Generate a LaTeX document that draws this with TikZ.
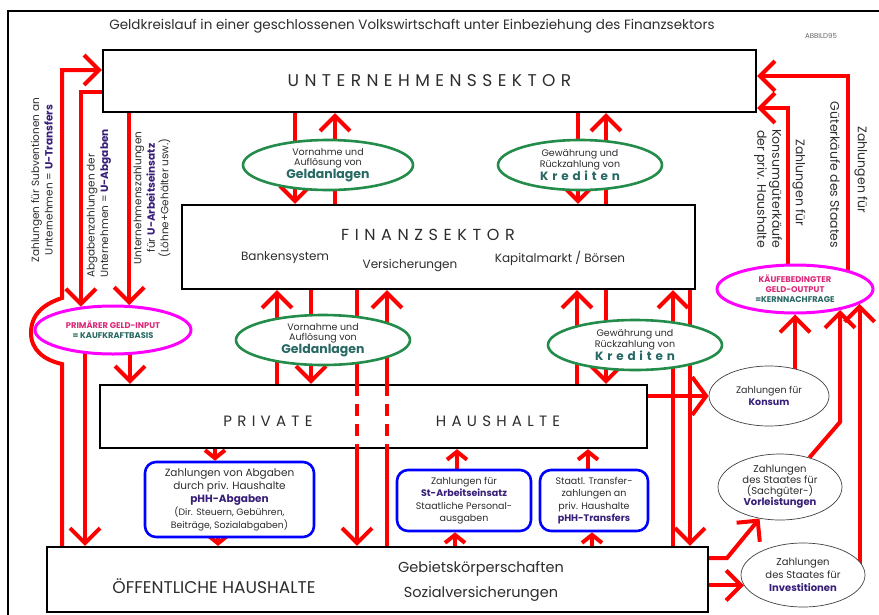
\documentclass[tikz,border=0pt]{standalone}
\usepackage{fontspec}
\setmainfont{Poppins}
\usetikzlibrary{arrows.meta,shapes.geometric}
\definecolor{rr}{RGB}{255,0,0}
\definecolor{gg}{RGB}{35,140,75}
\definecolor{mm}{RGB}{255,0,255}
\definecolor{bb}{RGB}{0,0,255}
\definecolor{pu}{RGB}{55,30,120}
\definecolor{pk}{RGB}{220,40,120}
\definecolor{te}{RGB}{40,105,100}
\definecolor{tx}{RGB}{45,45,45}
\newcommand\geldtx[1]{{\fontsize{12.5}{13}\selectfont\bfseries\color{te}#1}}
\newcommand\kredtx[1]{{\fontsize{12}{13}\selectfont\bfseries\color{te}\addfontfeature{LetterSpace=32}#1}}
\pgfdeclarelayer{bg}
\pgfsetlayers{bg,main}
\begin{document}
\begin{tikzpicture}[x=1pt,y=-1pt,
  sector/.style={draw=black,line width=2.2pt,fill=white,inner sep=0pt},
  greenell/.style={ellipse,draw=gg,line width=2.6pt,fill=white,inner sep=0pt,align=center,text=tx,font=\fontsize{9.5}{10.5}\selectfont},
  magell/.style={ellipse,draw=mm,line width=3pt,fill=white,inner sep=0pt,align=center,font=\fontsize{8.3}{10}\selectfont\bfseries},
  grayell/.style={ellipse,draw=black!75,line width=0.7pt,fill=white,inner sep=0pt,align=center,text=tx,font=\fontsize{9.5}{12}\selectfont},
  bluebox/.style={draw=bb,line width=2.6pt,rounded corners=11pt,fill=white,inner sep=0pt,align=center,text=tx,font=\fontsize{9.5}{12.5}\selectfont},
  redarrow/.style={draw=rr,line width=4pt,-{Straight Barb[length=15pt,width=30pt]}},
  redarrowsm/.style={draw=rr,line width=4pt,-{Straight Barb[length=8pt,width=20pt]}},
  redline/.style={draw=rr,line width=4pt},
  dashwire/.style={draw=rr,line width=4pt,dash pattern=on 12pt off 8pt},
  lbl/.style={text=tx,inner sep=0pt,align=center,font=\fontsize{10.5}{13.5}\selectfont},
  rlbl/.style={text=tx,inner sep=0pt,align=center,font=\fontsize{12.5}{15}\selectfont},
  boxtxt/.style={text=tx,inner sep=0pt,font=\fontsize{12}{14}\selectfont},
  bigtxt/.style={text=tx,inner sep=0pt,font=\fontsize{15}{17}\selectfont\addfontfeature{LetterSpace=35}}
]
\useasboundingbox (0,0) rectangle (879,614);
\draw[line width=1.4pt] (8,620) -- (8,11) -- (885,11);
\node[text=tx,inner sep=0pt,font=\fontsize{13.5}{15}\selectfont] (title) at (412,26) {Geldkreislauf in einer geschlossenen Volkswirtschaft unter Einbeziehung des Finanzsektors};
\node[text=black!60,inner sep=0pt,font=\fontsize{7}{8}\selectfont] (abb) at (821,36) {ABBILD95};

% sectors
\node[sector,minimum width=653pt,minimum height=62pt] (U) at (429.5,81) {};
\node[bigtxt,font=\fontsize{17}{19}\selectfont\addfontfeature{LetterSpace=32}] (Ut) at (U.center) {UNTERNEHMENSSEKTOR};
\node[sector,minimum width=513pt,minimum height=84pt] (F) at (438.5,247) {};
\node[bigtxt,font=\fontsize{16}{18}\selectfont\addfontfeature{LetterSpace=35}] (Ft) at (428,235) {FINANZSEKTOR};
\node[boxtxt] (F1) at (285,258) {Bankensystem};
\node[boxtxt] (F2) at (410,266) {Versicherungen};
\node[boxtxt] (F3) at (560,258) {Kapitalmarkt / Börsen};
\node[sector,minimum width=547pt,minimum height=63pt] (PH) at (373.5,416.5) {};
\node[bigtxt] (PHa) at (268,421) {PRIVATE};
\node[bigtxt] (PHb) at (498,421) {HAUSHALTE};
\node[sector,minimum width=661pt,minimum height=65pt] (OH) at (377.5,579.5) {};
\node[text=tx,inner sep=0pt,font=\fontsize{17}{19}\selectfont] (OHt) at (214,586) {ÖFFENTLICHE HAUSHALTE};
\node[text=tx,inner sep=0pt,font=\fontsize{14.5}{16}\selectfont] (OH1) at (481,569) {Gebietskörperschaften};
\node[text=tx,inner sep=0pt,font=\fontsize{14.5}{16}\selectfont] (OH2) at (481,594) {Sozialversicherungen};

% green ellipses
\node[greenell,minimum width=170pt,minimum height=50pt] (E1) at (328,165) {Vornahme und\\Auflösung von\\\geldtx{Geldanlagen}};
\node[greenell,minimum width=164pt,minimum height=50pt] (E2) at (580,165) {Gewährung und\\Rückzahlung von\\\kredtx{Krediten}};
\node[greenell,minimum width=174pt,minimum height=50pt] (E3) at (323,340) {Vornahme und\\Auflösung von\\\geldtx{Geldanlagen}};
\node[greenell,minimum width=174pt,minimum height=50pt] (E4) at (635,345) {Gewährung und\\Rückzahlung von\\\kredtx{Krediten}};

% magenta ellipses
\node[magell,minimum width=156pt,minimum height=48pt] (M1) at (113,330) {{\color{pk}PRIMÄRER GELD-INPUT}\\{\color{te}= KAUFKRAFTBASIS}};
\node[magell,minimum width=156pt,minimum height=48pt] (M2) at (795,289) {{\color{pk}KÄUFEBEDINGTER}\\{\color{pk}GELD-OUTPUT}\\{\color{te}=KERNNACHFRAGE}};

% grey ellipses
\node[grayell,minimum width=120pt,minimum height=60pt] (K1) at (769,396) {Zahlungen für\\{\bfseries\color{pu}Konsum}};
\node[grayell,minimum width=124pt,minimum height=66pt,font=\fontsize{10}{11}\selectfont] (K2) at (780,487) {Zahlungen\\des Staates für\\(Sachgüter-)\\{\bfseries\color{pu}Vorleistungen}};
\node[grayell,minimum width=124pt,minimum height=64pt,font=\fontsize{10}{13}\selectfont] (K3) at (803,575) {Zahlungen\\des Staates für\\{\bfseries\color{pu}Investitionen}};

% blue boxes
\node[bluebox,minimum width=169pt,minimum height=75pt,font=\fontsize{10.5}{13}\selectfont] (B1) at (229.5,499.5) {Zahlungen von Abgaben\\durch priv. Haushalte\\{\bfseries\color{pu}pHH-Abgaben}\\{\fontsize{9.3}{12}\selectfont(Dir. Steuern, Gebühren,}\\{\fontsize{9.3}{12}\selectfont Beiträge, Sozialabgaben)}};
\node[bluebox,minimum width=134pt,minimum height=61pt] (B2) at (464,500.5) {Zahlungen für\\{\bfseries\color{pu}St-Arbeitseinsatz}\\Staatliche Personal-\\ausgaben};
\node[bluebox,minimum width=108pt,minimum height=61pt] (B3) at (594,500.5) {Staatl. Transfer-\\zahlungen an\\priv. Haushalte\\{\bfseries\color{pu}pHH-Transfers}};

% rotated labels
\node[lbl,rotate=90] (L1) at (42,180) {Zahlungen für Subventionen an\\Unternehmen = {\bfseries\color{pu}U-Transfers}};
\node[lbl,rotate=90,anchor=west,align=left] (L2) at (99,278) {Abgabenzahlungen der\\Unternehmen = {\bfseries\color{pu}U-Abgaben}};
\node[lbl,rotate=90] (L3) at (152,198) {Unternehmenszahlungen\\für {\bfseries\color{pu}U-Arbeitseinsatz}\\(Löhne+Gehälter usw.)};
\node[rlbl,rotate=-90] (R1a) at (799,183) {Zahlungen für};
\node[rlbl,rotate=-90] (R1b) at (768,189) {Konsumgüterkäufe\\der priv. Haushalte};
\node[rlbl,rotate=-90] (R2a) at (861,170) {Zahlungen für};
\node[rlbl,rotate=-90] (R2b) at (835,175) {Güterkäufe des Staates};

\begin{pgfonlayer}{bg}
% left side
\draw[redarrow] (OH.north -| 62,0) -- (62,364) .. controls (44,360) and (31,350) .. (31,333) .. controls (31,314) and (44,304) .. (62,298) -- (62,70) -- (U.west |- 0,70);
\draw[redarrow] (U.west |- 0,92) -- (M1.144 |- 0,92) -- (M1.144);
\draw[redarrow] (M1.center -| 85,0) -- (OH.north -| 85,0);
\draw[redarrow] (U.south -| M1.57) -- (M1.57);
\draw[redarrow] (M1.center -| 130,0) -- (PH.north -| 130,0);
% between U and F
\draw[redarrow] (U.south -| 295,0) -- (F.north -| 295,0);
\draw[redarrow] (F.north -| 335,0) -- (U.south -| 335,0);
\draw[redarrow] (U.south -| 578,0) -- (F.north -| 578,0);
\draw[redarrow] (F.north -| 606,0) -- (U.south -| 606,0);
% between F and PH / OH
\draw[redarrow] (PH.north -| 277,0) -- (F.south -| 277,0);
\draw[redarrow] (F.south -| 311,0) -- (PH.north -| 311,0);
\draw[redline] (F.south -| 357,0) -- (PH.north -| 357,0);
\draw[redarrow] (PH.south -| 357,0) -- (OH.north -| 357,0);
\draw[redline] (OH.north -| 387,0) -- (PH.south -| 387,0);
\draw[redarrow] (PH.north -| 387,0) -- (F.south -| 387,0);
\draw[redarrow] (PH.north -| 577,0) -- (F.south -| 577,0);
\draw[redarrow] (F.south -| 606,0) -- (PH.north -| 606,0);
\draw[redarrow] (OH.north -| 673,0) -- (F.south -| 673,0);
\draw[redarrow] (F.south -| 690,0) -- (OH.north -| 690,0);
% right side
\draw[redarrow,-{Straight Barb[length=14pt,width=38pt]}] (PH.east |- K1.west) -- (K1.west);
\draw[redarrow] (OH.east |- 0,558) -- (727,558) -- (K2.237);
\draw[redarrow] (OH.east |- K3.190) -- (K3.190);
\draw[redarrow] (K1.center -| M2.south) -- (M2.south);
\draw[redarrow] (K2.45) -- (M2.335 |- 0,422) -- (M2.335);
\draw[redarrow] (K3.center -| M2.347) -- (M2.347);
\draw[redarrow] (M2.center -| 788,0) -- (788,108) -- (U.east |- 0,108);
\draw[redarrow] (M2.center -| 848,0) -- (848,76) -- (U.east |- 0,76);
% blue boxes
\draw[redarrowsm] (PH.south -| 215,0) -- (B1.north -| 215,0);
\draw[redarrowsm] (B1.south -| 218,0) -- (OH.north -| 218,0);
\draw[redarrowsm] (OH.north -| 455,0) -- (B2.south -| 455,0);
\draw[redarrowsm] (B2.north -| 457,0) -- (PH.south -| 457,0);
\draw[redarrowsm] (OH.north -| 592,0) -- (B3.south -| 592,0);
\draw[redarrowsm] (B3.north -| 588,0) -- (PH.south -| 588,0);
\end{pgfonlayer}
% dashed parts through the private households box
\draw[dashwire] (PH.north -| 357,0) -- (PH.south -| 357,0);
\draw[dashwire] (PH.north -| 387,0) -- (PH.south -| 387,0);
\end{tikzpicture}
\end{document}
